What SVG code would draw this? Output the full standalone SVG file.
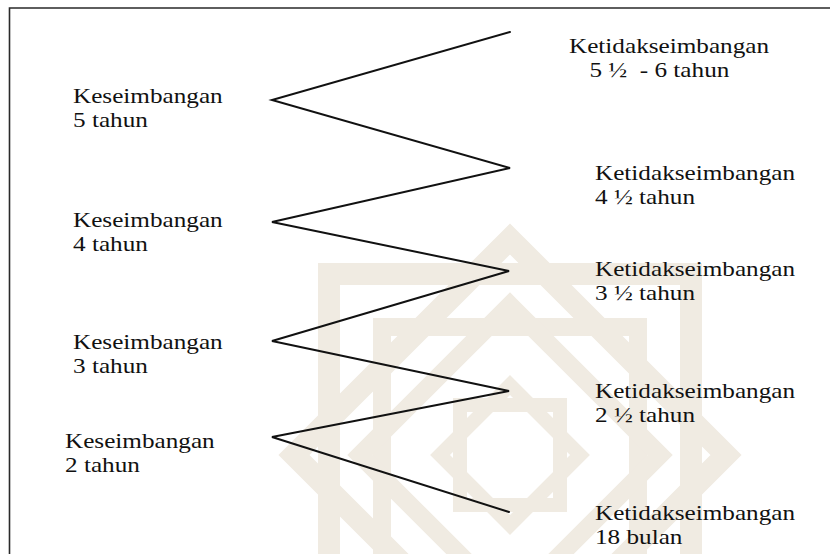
<svg xmlns="http://www.w3.org/2000/svg" width="830" height="554" viewBox="0 0 830 554">
  <style>
    .lbl { font-family: "Liberation Serif", "Times New Roman", serif; font-size: 21px; fill: #111; }
    .pre { white-space: pre; }
    .frame { stroke: #2a2a2a; stroke-width: 1.6; fill: none; }
    .zig { stroke: #111; stroke-width: 2; fill: none; stroke-linejoin: miter; stroke-linecap: round; }
    .mark { fill: none; stroke: #f0ebe2; stroke-linejoin: miter; }
  </style>

  <rect width="830" height="554" fill="#ffffff"/>

  <!-- faint interlaced emblem in the background -->
  <g id="emblem">
    <polygon class="mark" stroke-width="22" points="510,239 726,455 510,671 294,455"/>
    <rect class="mark" stroke-width="22" x="329" y="274" width="362" height="362"/>
    <rect class="mark" stroke-width="18" x="382" y="327" width="256" height="256"/>
    <polygon class="mark" stroke-width="18" points="510,305 660,455 510,605 360,455"/>
    <polygon class="mark" stroke-width="14" points="510,385 580,455 510,525 440,455"/>
    <rect class="mark" stroke-width="14" x="460" y="405" width="100" height="100"/>
  </g>

  <!-- page frame -->
  <g id="frame">
    <path class="frame" d="M9.5,554 V8 H830"/>
  </g>

  <!-- zigzag connecting the stages -->
  <g id="connectors">
    <path class="zig" d="M510,32 L272,100 L510,168 L272,222 L509,271 L272,341 L509,391 L272,437 L509,512"/>
  </g>

  <!-- left column: balance stages -->
  <g id="seimbang-5" transform="translate(73,103) scale(1.2,1)">
    <text class="lbl" x="0" y="0">Keseimbangan</text>
    <text class="lbl" x="0" y="24">5 tahun</text>
  </g>
  <g id="seimbang-4" transform="translate(73,227) scale(1.2,1)">
    <text class="lbl" x="0" y="0">Keseimbangan</text>
    <text class="lbl" x="0" y="24">4 tahun</text>
  </g>
  <g id="seimbang-3" transform="translate(73,349) scale(1.2,1)">
    <text class="lbl" x="0" y="0">Keseimbangan</text>
    <text class="lbl" x="0" y="24">3 tahun</text>
  </g>
  <g id="seimbang-2" transform="translate(65,448) scale(1.2,1)">
    <text class="lbl" x="0" y="0">Keseimbangan</text>
    <text class="lbl" x="0" y="24">2 tahun</text>
  </g>

  <!-- right column: imbalance stages -->
  <g id="tidak-6" transform="translate(569,53) scale(1.2,1)">
    <text class="lbl" x="0" y="0">Ketidakseimbangan</text>
    <text class="lbl pre" x="17" y="24">5 ½  - 6 tahun</text>
  </g>
  <g id="tidak-4h" transform="translate(595,180) scale(1.2,1)">
    <text class="lbl" x="0" y="0">Ketidakseimbangan</text>
    <text class="lbl" x="0" y="24">4 ½ tahun</text>
  </g>
  <g id="tidak-3h" transform="translate(595,276) scale(1.2,1)">
    <text class="lbl" x="0" y="0">Ketidakseimbangan</text>
    <text class="lbl" x="0" y="24">3 ½ tahun</text>
  </g>
  <g id="tidak-2h" transform="translate(595,398) scale(1.2,1)">
    <text class="lbl" x="0" y="0">Ketidakseimbangan</text>
    <text class="lbl" x="0" y="24">2 ½ tahun</text>
  </g>
  <g id="tidak-18" transform="translate(595,520) scale(1.2,1)">
    <text class="lbl" x="0" y="0">Ketidakseimbangan</text>
    <text class="lbl" x="0" y="24">18 bulan</text>
  </g>
</svg>
